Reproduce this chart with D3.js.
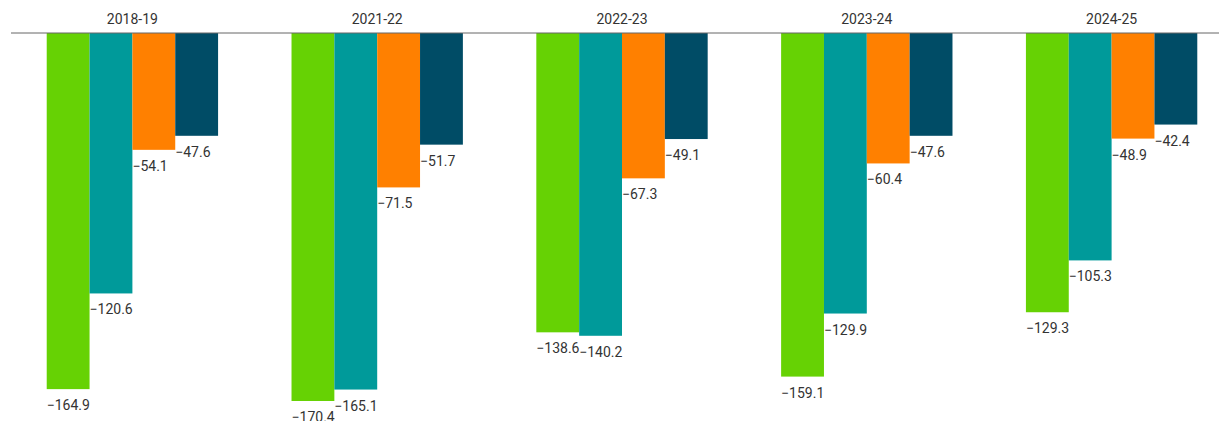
<!DOCTYPE html>
<html>
<head>
<meta charset="utf-8">
<script src="https://cdn.jsdelivr.net/npm/d3@7"></script>
<style>
  body { margin: 0; background: #fff; }
  text { font-family: Roboto, "Noto Sans", sans-serif; }
</style>
</head>
<body>
<div id="vis-holder"></div>
<script>
// Data
const years = ["2018-19", "2021-22", "2022-23", "2023-24", "2024-25"];
const seriesKeys = ["s1", "s2", "s3", "s4"];
const s1 = [-164.9, -170.4, -138.6, -159.1, -129.3];
const s2 = [-120.6, -165.1, -140.2, -129.9, -105.3];
const s3 = [-54.1, -71.5, -67.3, -60.4, -48.9];
const s4 = [-47.6, -51.7, -49.1, -47.6, -42.4];
const colors = ["#66d204", "#009a9a", "#ff8000", "#004c66"];

const width = 1219;
const height = 421;
const axisY = 33;

const svg = d3.select("#vis-holder")
  .append("svg")
  .attr("width", width)
  .attr("height", height);

const rows = years.map((yr, i) => ({ year: yr, values: [s1[i], s2[i], s3[i], s4[i]] }));

// Scales
const x0 = d3.scaleBand()
  .domain(years)
  .range([10, 1234])
  .paddingInner(0.3)
  .paddingOuter(0.15);

const x1 = d3.scaleBand()
  .domain(seriesKeys)
  .range([0, x0.bandwidth()]);

const y = d3.scaleLinear()
  .domain([0, -170.4])
  .range([axisY, 401]);

const color = d3.scaleOrdinal().domain(seriesKeys).range(colors);
const fmt = d3.format(".1f");

// Bars
const groups = svg.selectAll(".group")
  .data(rows)
  .enter()
  .append("g")
  .attr("class", "group")
  .attr("transform", (d) => `translate(${x0(d.year)},0)`);

groups.selectAll("rect")
  .data((d) => d.values.map((v, i) => ({ key: seriesKeys[i], value: v })))
  .enter()
  .append("rect")
  .attr("x", (d) => x1(d.key))
  .attr("y", y(0))
  .attr("width", x1.bandwidth())
  .attr("height", (d) => y(d.value) - y(0))
  .style("fill", (d) => color(d.key));

// Value labels
groups.selectAll(".val")
  .data((d) => d.values.map((v, i) => ({ key: seriesKeys[i], value: v })))
  .enter()
  .append("text")
  .attr("class", "val")
  .attr("x", (d) => x1(d.key))
  .attr("y", (d) => y(d.value) + 21)
  .attr("font-size", "14px")
  .attr("fill", "#333")
  .text((d) => fmt(d.value));

// Top axis line + group labels
svg.append("line")
  .attr("x1", 11)
  .attr("x2", width)
  .attr("y1", axisY)
  .attr("y2", axisY)
  .attr("stroke", "#666")
  .attr("stroke-width", 1);

svg.selectAll(".yr")
  .data(years)
  .enter()
  .append("text")
  .attr("class", "yr")
  .attr("x", (d) => x0(d) + x0.bandwidth() / 2)
  .attr("y", 24)
  .attr("text-anchor", "middle")
  .attr("font-size", "14px")
  .attr("fill", "#333")
  .text((d) => d);
</script>
</body>
</html>
